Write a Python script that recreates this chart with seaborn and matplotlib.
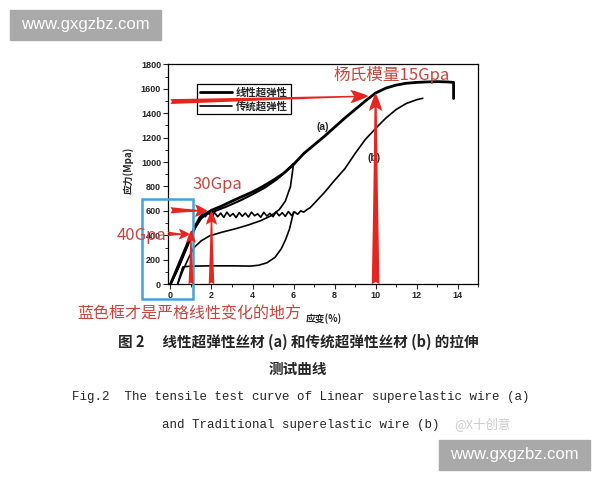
import numpy as np
import pandas as pd
import seaborn as sns
import matplotlib.pyplot as plt
from matplotlib.lines import Line2D
from matplotlib.patches import Rectangle
from matplotlib.ticker import MultipleLocator

# (a) linear superelastic wire, pulled to fracture
a_strain = [0.0, 0.3, 0.6, 1.0, 1.3, 1.6, 2.0, 2.5, 3.0, 3.5, 4.0, 4.5, 5.0, 5.5, 6.0,
            6.5, 7.0, 7.5, 8.0, 8.5, 9.0, 9.5, 10.0, 10.5, 11.0, 11.5, 12.0, 12.5,
            13.0, 13.5, 13.8, 13.8]
a_stress = [0, 120, 240, 400, 500, 565, 605, 640, 680, 718, 755, 800, 850, 905, 980,
            1070, 1140, 1210, 1285, 1360, 1430, 1500, 1565, 1605, 1630, 1645, 1652, 1656,
            1658, 1656, 1652, 1520]

# (a) load / unload cycle to 6 %
a_cyc_strain = [0.0, 0.4, 0.8, 1.2, 1.5, 1.8, 2.2, 2.8, 3.4, 4.0, 4.6, 5.2, 5.6, 6.0]
a_cyc_stress = [0, 140, 300, 460, 540, 575, 600, 640, 685, 735, 790, 860, 920, 985]
a_unl_strain = [6.0, 5.85, 5.6, 5.3, 4.9, 4.4, 3.8, 3.2, 2.5, 1.9, 1.5, 1.15, 0.9, 0.6, 0.35]
a_unl_stress = [985, 800, 680, 610, 560, 520, 485, 455, 425, 395, 355, 300, 220, 110, 0]

# (b) traditional superelastic wire, serrated plateau then hardening
b_strain = [0.0, 0.3, 0.6, 0.9, 1.2, 1.4,
            1.55, 1.7, 1.85, 2.0, 2.15, 2.3, 2.45, 2.6, 2.75, 2.9, 3.05, 3.2, 3.35, 3.5,
            3.65, 3.8, 3.95, 4.1, 4.25, 4.4, 4.55, 4.7, 4.85, 5.0, 5.15, 5.3, 5.45, 5.6,
            5.75, 5.9, 6.05, 6.2, 6.35, 6.5, 6.65,
            6.8, 7.0, 7.5, 8.0, 8.5, 9.0, 9.5, 10.0, 10.5, 11.0, 11.5, 12.0, 12.3]
b_stress = [0, 100, 220, 350, 480, 545,
            575, 552, 590, 548, 586, 552, 582, 546, 590, 556, 578, 545, 586, 556,
            582, 550, 590, 560, 576, 548, 588, 558, 580, 552, 592, 560, 585, 555,
            595, 562, 592, 572, 600, 590, 610,
            625, 660, 750, 850, 945, 1070, 1185, 1275, 1360, 1430, 1480, 1510, 1522]
b_unl_strain = [6.0, 5.9, 5.8, 5.6, 5.4, 5.1, 4.7, 4.3, 3.9, 3.0, 2.0, 1.2, 0.8, 0.6, 0.45, 0.35]
b_unl_stress = [590, 520, 450, 360, 290, 220, 175, 155, 148, 150, 150, 148, 145, 140, 60, 0]

legend_labels = ["线性超弹性", "传统超弹性"]

# red annotation arrows: (tail x, tail y, head x, head y, tail w, head w, head len)
arrows = [
    (0.0, 1495, 9.65, 1540, 0.35, 0.95, 1.3),
    (10.0, 0, 10.0, 1565, 0.55, 0.95, 1.3),
    (0.0, 605, 1.8, 600, 0.45, 0.9, 0.9),
    (2.0, 0, 2.0, 600, 0.4, 0.8, 1.0),
    (-0.15, 412, 0.95, 408, 0.35, 0.75, 0.8),
    (1.0, 0, 1.0, 440, 0.35, 0.7, 0.9),
]

RED = "#e3261f"
RED_TXT = "#c4463f"
CJK = ["Noto Sans CJK SC", "DejaVu Sans"]

sns.set_style("ticks")
plt.rcParams["font.family"] = ["Liberation Sans", "Noto Sans CJK SC", "DejaVu Sans"]

fig = plt.figure(figsize=(6, 4.8), dpi=100)
ax = fig.add_axes([0.28, 0.408, 0.517, 0.458])

sns.lineplot(x=a_strain, y=a_stress, sort=False, estimator=None, color="black", lw=2.0, ax=ax)
sns.lineplot(x=a_cyc_strain, y=a_cyc_stress, sort=False, estimator=None, color="black", lw=1.5, ax=ax)
sns.lineplot(x=a_unl_strain, y=a_unl_stress, sort=False, estimator=None, color="black", lw=1.2, ax=ax)
sns.lineplot(x=b_strain, y=b_stress, sort=False, estimator=None, color="black", lw=1.2, ax=ax)
sns.lineplot(x=b_unl_strain, y=b_unl_stress, sort=False, estimator=None, color="black", lw=1.2, ax=ax)

ax.set_xlim(-0.12, 15.0)
ax.set_ylim(0, 1800)
ax.xaxis.set_major_locator(MultipleLocator(2))
ax.xaxis.set_minor_locator(MultipleLocator(1))
ax.yaxis.set_major_locator(MultipleLocator(200))
ax.yaxis.set_minor_locator(MultipleLocator(100))
ax.tick_params(which="major", direction="out", length=3.5, width=0.8, labelsize=6.5, pad=1.5,
               top=False, right=False)
ax.tick_params(which="minor", direction="out", length=2, width=0.7, top=False, right=False)
for lab in ax.get_xticklabels() + ax.get_yticklabels():
    lab.set_fontweight("bold")
for sp in ax.spines.values():
    sp.set_visible(True)
    sp.set_linewidth(0.9)
    sp.set_color("black")

ax.set_xlabel("应变(%)", fontsize=7, fontweight="bold", family=CJK)
ax.xaxis.set_label_coords(0.503, -0.13)
ax.set_ylabel("应力(Mpa)", fontsize=7, fontweight="bold", family=CJK)
ax.yaxis.set_label_coords(-0.112, 0.52)

handles = [Line2D([], [], color="black", lw=2.0), Line2D([], [], color="black", lw=1.2)]
leg = ax.legend(handles, legend_labels, loc="upper left", bbox_to_anchor=(0.094, 0.911),
                prop={"family": CJK, "weight": "bold", "size": 7.5}, handlelength=3.0,
                handletextpad=0.4, borderpad=0.3, labelspacing=0.35, fancybox=False,
                framealpha=1, edgecolor="black", borderaxespad=0)
leg.get_frame().set_linewidth(0.9)

ax.text(7.4, 1290, "(a)", fontsize=7.5, fontweight="bold", ha="center", va="center")
ax.text(9.9, 1030, "(b)", fontsize=7.5, fontweight="bold", ha="center", va="center")

for x0, y0, x1, y1, tw, hw, hl in arrows:
    ax.annotate("", xy=(x1, y1), xytext=(x0, y0), annotation_clip=False, zorder=6,
                arrowprops=dict(arrowstyle=f"fancy,head_length={hl},head_width={hw},tail_width={tw}",
                                color=RED, lw=0, shrinkA=0, shrinkB=0, mutation_scale=10))

# blue frame around the linear region
ax.add_patch(Rectangle((-1.39, -123), 2.49, 820, fill=False, edgecolor="#4a9fd5", lw=1.8,
                       clip_on=False, zorder=5))

# red notes
fig.text(0.555, 0.844, "杨氏模量15Gpa", color=RED_TXT, fontsize=12, family=CJK, va="center")
fig.text(0.32, 0.615, "30Gpa", color=RED_TXT, fontsize=12, family=CJK, va="center")
fig.text(0.195, 0.51, "40Gpa", color=RED_TXT, fontsize=12, family=CJK, va="center")
fig.text(0.128, 0.346, "蓝色框才是严格线性变化的地方", color=RED_TXT, fontsize=11.5, family=CJK,
         va="center")

# caption
fig.text(0.498, 0.2875, "图 2\u3000 线性超弹性丝材 (a) 和传统超弹性丝材 (b) 的拉伸", fontsize=10.5,
         fontweight="bold", family=CJK, ha="center", va="center")
fig.text(0.497, 0.231, "测试曲线", fontsize=10.5, fontweight="bold", family=CJK, ha="center",
         va="center")
fig.text(0.12, 0.173, "Fig.2  The tensile test curve of Linear superelastic wire (a)",
         fontsize=9, family="Liberation Mono", va="center")
fig.text(0.27, 0.115, "and Traditional superelastic wire (b)", fontsize=9,
         family="Liberation Mono", va="center")
fig.text(0.757, 0.115, "@X十创意", fontsize=9, color="#cccccc", family=CJK, va="center")

# site watermarks
for bx, by in [(10, 10), (439, 440)]:
    fig.patches.append(Rectangle((bx / 600, 1 - (by + 30) / 480), 151 / 600, 30 / 480,
                                 transform=fig.transFigure, color="#a9a9a9", zorder=0))
    fig.text((bx + 75.5) / 600, 1 - (by + 15) / 480, "www.gxgzbz.com", color="white",
             fontsize=12, family="Liberation Sans", ha="center", va="center")

fig.savefig("out.png", dpi=100)
